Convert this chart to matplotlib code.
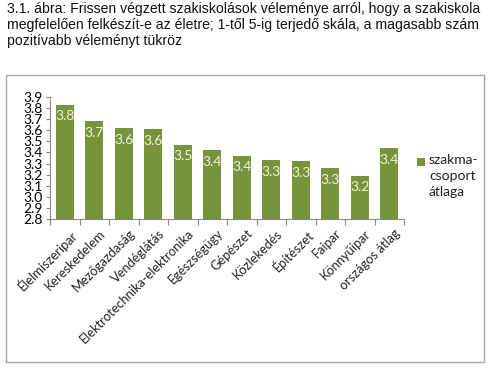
import matplotlib
matplotlib.use("Agg")
import matplotlib.pyplot as plt
from matplotlib.patches import Rectangle
from matplotlib.transforms import ScaledTranslation

categories = ["Élelmiszeripar", "Kereskedelem", "Mezőgazdaság", "Vendéglátás",
              "Elektrotechnika-elektronika", "Egészségügy", "Gépészet", "Közlekedés",
              "Építészet", "Faipar", "Könnyűipar", "országos átlag"]
values = [3.83, 3.68, 3.62, 3.61, 3.47, 3.42, 3.37, 3.33, 3.32, 3.26, 3.19, 3.44]
labels = ["3.8", "3.7", "3.6", "3.6", "3.5", "3.4", "3.4", "3.3", "3.3", "3.3", "3.2", "3.4"]
yticks = [2.8, 2.9, 3.0, 3.1, 3.2, 3.3, 3.4, 3.5, 3.6, 3.7, 3.8, 3.9]
legend_label = "szakma-\ncsoport\nátlaga"
title = ("3.1. ábra: Frissen végzett szakiskolások véleménye arról, hogy a szakiskola\n"
         "megfelelően felkészít-e az életre; 1-től 5-ig terjedő skála, a magasabb szám\n"
         "pozitívabb véleményt tükröz")

color = "#77933C"
W, H = 490, 368
fig = plt.figure(figsize=(W / 100, H / 100), dpi=100)

fig.text(7 / W, 1 - 2 / H, title, ha="left", va="top", fontsize=10.1,
         family="Liberation Sans", linespacing=1.2, color="#111111")

fig.patches.append(Rectangle((6 / W, 1 - 362 / H), (484 - 6) / W, (362 - 75) / H,
                             transform=fig.transFigure, fill=False,
                             edgecolor="#A6A6A6", linewidth=1.0))

ax = fig.add_axes([50 / W, 1 - 219 / H, (404 - 50) / W, (219 - 97) / H])
x = list(range(len(categories)))
bars = ax.bar(x, values, width=0.62, color=color, bottom=0, zorder=2)
ax.set_ylim(2.8, 3.9)
ax.set_xlim(-0.5, len(categories) - 0.5)
ax.set_yticks(yticks)
ax.set_yticklabels([f"{v:.1f}" for v in yticks], family="Lato", fontsize=10)
ax.tick_params(axis="y", length=3, pad=2, color="#888888")
ax.set_xticks([i - 0.5 for i in range(len(categories) + 1)], minor=False)
ax.set_xticklabels([])
ax.tick_params(axis="x", length=4, color="#888888")
ax.set_xticks(x, minor=True)
ax.set_xticklabels(categories, minor=True, rotation=45, ha="right",
                   rotation_mode="anchor", family="Lato", fontsize=9.3,
                   color="#222222")
ax.tick_params(axis="x", which="minor", length=0, pad=6)
shift = ScaledTranslation(5 / 100, 0, fig.dpi_scale_trans)
for t in ax.get_xticklabels(minor=True):
    t.set_transform(t.get_transform() + shift)
for s in ["top", "right"]:
    ax.spines[s].set_visible(False)
for s in ["left", "bottom"]:
    ax.spines[s].set_color("#888888")

for b, lab in zip(bars, labels):
    ax.annotate(lab, (b.get_x() + b.get_width() / 2, b.get_height()),
                xytext=(0, -4), textcoords="offset points", ha="center", va="top",
                color="#F2F2E0", fontsize=10, family="Lato")

# legend
fig.patches.append(Rectangle((417 / W, 1 - 166 / H), 8 / W, 8 / H,
                             transform=fig.transFigure, facecolor=color,
                             edgecolor="none"))
fig.text(429 / W, 1 - 154 / H, legend_label, ha="left", va="top", fontsize=10,
         family="Lato", linespacing=1.4, color="#222222")

fig.savefig("out.png", dpi=100)
